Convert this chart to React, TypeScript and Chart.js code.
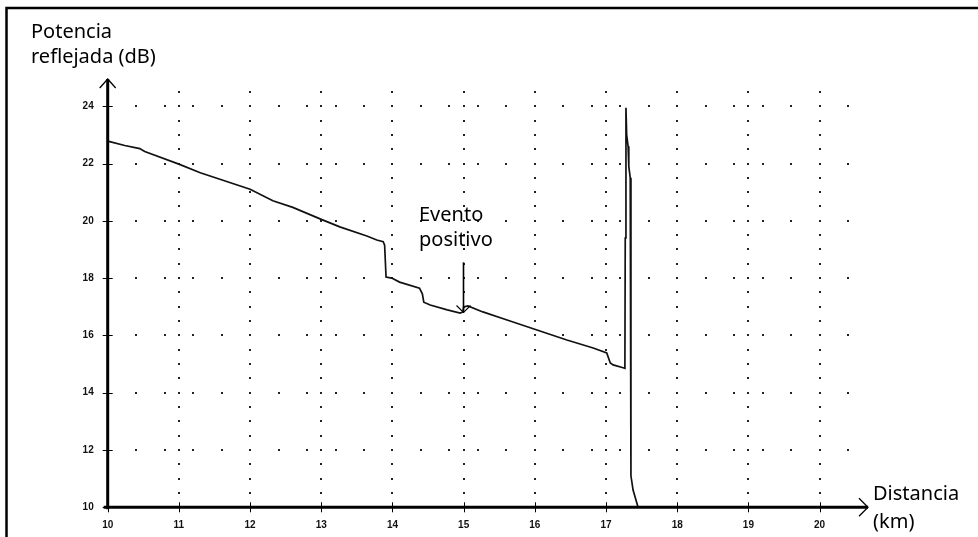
import React, { useEffect, useRef } from "react";
import { Chart, registerables } from "chart.js";

Chart.register(...registerables);

// ---- data ----
const xTickValues = [10, 11, 12, 13, 14, 15, 16, 17, 18, 19, 20];
const yTickValues = [10, 12, 14, 16, 18, 20, 22, 24];

const distanceKm = [
  10.0, 10.24, 10.45, 10.52, 11.0, 11.3, 12.0, 12.32, 12.6, 13.0, 13.26, 13.64,
  13.78, 13.87, 13.89, 13.91, 13.99, 14.1, 14.38, 14.42, 14.44, 14.53, 14.77,
  14.95, 14.99, 15.0, 15.06, 15.27, 15.61, 16.03, 16.45, 16.82, 17.01, 17.06,
  17.1, 17.24, 17.265, 17.27, 17.28, 17.29, 17.31, 17.32, 17.34, 17.35, 17.38,
  17.45,
];
const powerDb = [
  22.78, 22.63, 22.52, 22.42, 21.98, 21.68, 21.1, 20.7, 20.47, 20.05, 19.79,
  19.47, 19.33, 19.27, 19.15, 18.04, 18.0, 17.86, 17.65, 17.45, 17.16, 17.06,
  16.89, 16.78, 16.82, 16.99, 17.03, 16.82, 16.54, 16.19, 15.84, 15.56, 15.39,
  15.04, 14.97, 14.87, 14.85, 19.4, 23.95, 23.0, 22.6, 21.9, 21.5, 11.1, 10.6,
  10.0,
];

const yTitleLines = ["Potencia", "reflejada (dB)"];
const xTitleLines = ["Distancia", "(km)"];
const eventLabelLines = ["Evento", "positivo"];
const eventDistance = 15.0;
const eventArrowFromDb = 18.55;
const eventArrowToDb = 16.8;

const X_MIN = 10;
const X_MAX = 20.68;
const Y_MIN = 10;
const Y_MAX = 24.95;
const V_DOT_STEP = 0.5;
const V_DOT_LAST = 24.5;
const H_DOT_STEP = 0.4;
const H_DOT_LAST = 20.4;

const TEXT_FONT = '20px "Noto Sans", "Open Sans", sans-serif';

const decorPlugin = {
  id: "decor",
  beforeDatasetsDraw(chart: any) {
    const ctx = chart.ctx;
    const xs = chart.scales.x;
    const ys = chart.scales.y;
    ctx.save();
    ctx.fillStyle = "#222";
    // vertical dotted grid lines
    for (const xv of xTickValues) {
      if (xv === X_MIN) continue;
      const px = Math.round(xs.getPixelForValue(xv));
      for (let i = 1; Y_MIN + i * V_DOT_STEP <= V_DOT_LAST + 1e-6; i++) {
        const py = Math.round(ys.getPixelForValue(Y_MIN + i * V_DOT_STEP));
        ctx.fillRect(px - 1, py - 1, 2, 2);
      }
    }
    // horizontal dotted grid lines
    for (const yv of yTickValues) {
      if (yv === Y_MIN) continue;
      const py = Math.round(ys.getPixelForValue(yv));
      for (let i = 1; X_MIN + i * H_DOT_STEP <= H_DOT_LAST + 1e-6; i++) {
        const px = Math.round(xs.getPixelForValue(X_MIN + i * H_DOT_STEP));
        ctx.fillRect(px - 1, py - 1, 2, 2);
      }
    }
    ctx.restore();
  },
  afterDatasetsDraw(chart: any) {
    const ctx = chart.ctx;
    const xs = chart.scales.x;
    const ys = chart.scales.y;
    const x0 = xs.getPixelForValue(X_MIN);
    const x1 = xs.getPixelForValue(X_MAX);
    const y0 = ys.getPixelForValue(Y_MIN);
    const y1 = ys.getPixelForValue(Y_MAX);
    ctx.save();
    ctx.strokeStyle = "#000";
    // axes
    ctx.lineWidth = 3;
    ctx.beginPath();
    ctx.moveTo(x0, y0 + 2);
    ctx.lineTo(x0, y1);
    ctx.moveTo(x0 - 4, y0);
    ctx.lineTo(x1, y0);
    ctx.stroke();
    // arrow heads
    ctx.lineWidth = 1.3;
    ctx.beginPath();
    ctx.moveTo(x0 - 8, y1 + 9);
    ctx.lineTo(x0, y1);
    ctx.lineTo(x0 + 8, y1 + 9);
    ctx.moveTo(x1 - 9, y0 - 9);
    ctx.lineTo(x1, y0);
    ctx.lineTo(x1 - 9, y0 + 9);
    ctx.stroke();
    // tick marks
    ctx.lineWidth = 1;
    ctx.beginPath();
    for (const yv of yTickValues) {
      const py = Math.round(ys.getPixelForValue(yv)) + 0.5;
      ctx.moveTo(x0 - 5, py);
      ctx.lineTo(x0 + 5, py);
    }
    for (const xv of xTickValues) {
      const px = Math.round(xs.getPixelForValue(xv)) + 0.5;
      ctx.moveTo(px, y0 - 5);
      ctx.lineTo(px, y0 + 5);
    }
    ctx.stroke();

    // event arrow
    const ex = Math.round(xs.getPixelForValue(eventDistance)) - 0.5;
    const eyA = ys.getPixelForValue(eventArrowFromDb);
    const eyB = ys.getPixelForValue(eventArrowToDb);
    ctx.lineWidth = 1.6;
    ctx.beginPath();
    ctx.moveTo(ex, eyA);
    ctx.lineTo(ex, eyB);
    ctx.stroke();
    ctx.lineWidth = 1.1;
    ctx.beginPath();
    ctx.moveTo(ex - 7, eyB - 7);
    ctx.lineTo(ex, eyB);
    ctx.lineTo(ex + 7, eyB - 7);
    ctx.stroke();

    // frame (top and left)
    ctx.lineWidth = 2.5;
    ctx.beginPath();
    ctx.moveTo(6.5, 537);
    ctx.lineTo(6.5, 8);
    ctx.lineTo(978, 8);
    ctx.stroke();

    // texts
    ctx.fillStyle = "#000";
    ctx.font = TEXT_FONT;
    ctx.textAlign = "left";
    ctx.textBaseline = "alphabetic";
    ctx.fillText(yTitleLines[0], 31, 38);
    ctx.fillText(yTitleLines[1], 31, 63);
    ctx.fillText(eventLabelLines[0], 419, 221);
    ctx.fillText(eventLabelLines[1], 419, 246);
    ctx.fillText(xTitleLines[0], 873, 500);
    ctx.fillText(xTitleLines[1], 873, 528);
    ctx.restore();
  },
};

export default function App() {
  const canvasRef = useRef<HTMLCanvasElement | null>(null);

  useEffect(() => {
    const canvas = canvasRef.current;
    if (!canvas) return;
    const points = distanceKm.map((x, i) => ({ x, y: powerDb[i] }));
    const chart = new Chart(canvas, {
      type: "line",
      data: {
        datasets: [
          {
            data: points,
            borderColor: "#111",
            borderWidth: 1.7,
            pointRadius: 0,
            tension: 0,
            fill: false,
          },
        ],
      },
      options: {
        animation: false,
        responsive: false,
        devicePixelRatio: 1,
        layout: { padding: { left: 0, top: 79, right: 110, bottom: 0 } },
        plugins: {
          legend: { display: false },
          tooltip: { enabled: false },
        },
        scales: {
          x: {
            type: "linear",
            min: X_MIN,
            max: X_MAX,
            grid: { display: false, drawTicks: false },
            border: { display: false },
            ticks: {
              autoSkip: false,
              maxRotation: 0,
              padding: 12,
              color: "#111",
              font: { family: "Liberation Sans", size: 10, weight: "bold" },
            },
            afterBuildTicks: (scale: any) => {
              scale.ticks = xTickValues.map((v) => ({ value: v }));
            },
            afterFit: (scale: any) => {
              scale.height = 29.7;
            },
          },
          y: {
            type: "linear",
            min: Y_MIN,
            max: Y_MAX,
            grid: { display: false, drawTicks: false },
            border: { display: false },
            ticks: {
              autoSkip: false,
              padding: 14,
              color: "#111",
              font: { family: "Liberation Sans", size: 10, weight: "bold" },
            },
            afterBuildTicks: (scale: any) => {
              scale.ticks = yTickValues.map((v) => ({ value: v }));
            },
            afterFit: (scale: any) => {
              scale.width = 107.7;
            },
          },
        },
      },
      plugins: [decorPlugin],
    } as any);
    return () => chart.destroy();
  }, []);

  return (
    <div
      style={{
        position: "absolute",
        left: 0,
        top: 0,
        width: 978,
        height: 537,
        background: "#fff",
      }}
    >
      <canvas
        ref={canvasRef}
        width={978}
        height={537}
        style={{ display: "block", width: 978, height: 537 }}
      />
    </div>
  );
}
